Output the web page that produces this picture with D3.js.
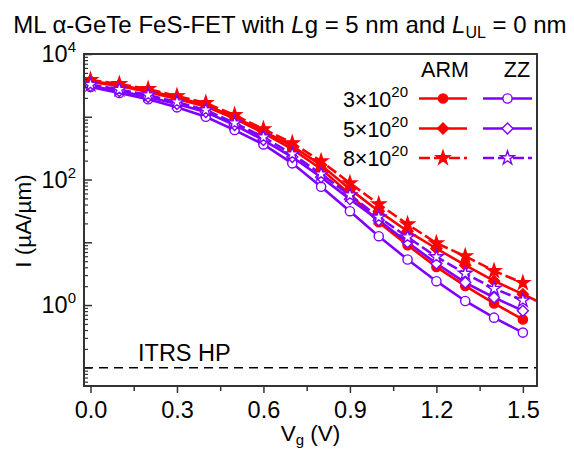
<!DOCTYPE html>
<html>
<head>
<meta charset="utf-8">
<script src="https://cdn.jsdelivr.net/npm/d3@7/dist/d3.min.js"></script>
<style>
  body { margin: 0; background: #fff; }
  text { font-family: Arial, "Liberation Sans", sans-serif; fill: #000; }
</style>
</head>
<body>
<svg id="chart" width="574" height="452"></svg>
<script>
// gate voltage (V); the ARM 5e20 curve has one extra point past the frame
const vg = [0, 0.1, 0.2, 0.3, 0.4, 0.5, 0.6, 0.7, 0.8, 0.9, 1.0, 1.1, 1.2, 1.3, 1.4, 1.5, 1.6];

// current (uA/um)
const arm3 = [3575, 3090, 2477, 1915, 1455, 936, 550, 305, 147, 58.5, 20.9, 8.99, 4.05, 2.02, 1.06, 0.59];
const arm5 = [3710, 3205, 2618, 2024, 1537, 989, 592, 341, 170, 70.3, 31.3, 15.0, 7.96, 4.31, 2.42, 1.49, 0.89];
const arm8 = [3850, 3325, 2765, 2138, 1655, 1065, 637, 381, 196, 87.7, 40.5, 19.4, 9.68, 6.0, 3.50, 2.25];
const zz3 = [2977, 2388, 1896, 1413, 1000, 614, 363, 181, 76.5, 31.3, 12.5, 5.32, 2.40, 1.16, 0.63, 0.364];
const zz5 = [3100, 2570, 2061, 1595, 1188, 738, 425, 228, 109, 48.7, 22.5, 10.0, 4.59, 2.28, 1.32, 0.81];
const zz8 = [3250, 2715, 2218, 1715, 1280, 794, 474, 254, 122, 56.4, 25.1, 12.1, 5.85, 3.18, 1.83, 1.19];

const dopings = ["3", "5", "8"];
const itrsHP = 0.1;

const xTicks = [0, 0.3, 0.6, 0.9, 1.2, 1.5];
const xTickLabels = ["0.0", "0.3", "0.6", "0.9", "1.2", "1.5"];
const yLabelExps = [4, 2, 0];

const red = "#ff0000";
const purple = "#8000ff";

const series = [
  { vals: arm3, color: red, marker: "circle", filled: true, dashed: false },
  { vals: arm5, color: red, marker: "diamond", filled: true, dashed: false },
  { vals: arm8, color: red, marker: "star", filled: true, dashed: true },
  { vals: zz3, color: purple, marker: "circle", filled: false, dashed: false },
  { vals: zz5, color: purple, marker: "diamond", filled: false, dashed: false },
  { vals: zz8, color: purple, marker: "star", filled: false, dashed: true }
];

const box = { left: 84, right: 537, top: 54, bottom: 386 };

const svg = d3.select("#chart");

const x = d3.scaleLinear().domain([-0.0225, 1.549]).range([box.left, box.right]);
const y = d3.scaleLog().domain([0.0513, 1e4]).range([box.bottom, box.top]);

// diamond as a rotated square
const diamondType = {
  draw(ctx, size) {
    const r = Math.sqrt(size) / 2;
    ctx.moveTo(0, -r);
    ctx.lineTo(r, 0);
    ctx.lineTo(0, r);
    ctx.lineTo(-r, 0);
    ctx.closePath();
  }
};
const symbolFor = {
  circle: d3.symbol().type(d3.symbolCircle).size(Math.PI * 4.6 * 4.6),
  diamond: d3.symbol().type(diamondType).size(121),
  star: d3.symbol().type(d3.symbolStar).size(58)
};

svg.append("clipPath").attr("id", "plot-clip")
  .append("rect")
  .attr("x", box.left).attr("y", box.top)
  .attr("width", box.right - box.left).attr("height", box.bottom - box.top);

// ITRS HP reference line
svg.append("line")
  .attr("x1", box.left).attr("x2", box.right)
  .attr("y1", y(itrsHP)).attr("y2", y(itrsHP))
  .attr("stroke", "#000").attr("stroke-width", 1.5)
  .attr("stroke-dasharray", "9,6");

svg.append("text")
  .attr("x", 138).attr("y", 361)
  .style("font-size", "23.5px")
  .text("ITRS HP");

const plot = svg.append("g").attr("clip-path", "url(#plot-clip)");

const line = d3.line()
  .x((d, i) => x(vg[i]))
  .y(d => y(d));

series.forEach(s => {
  plot.append("path")
    .datum(s.vals)
    .attr("fill", "none")
    .attr("stroke", s.color)
    .attr("stroke-width", 2.6)
    .attr("stroke-dasharray", s.dashed ? "11,4" : null)
    .attr("d", line);
});

series.forEach(s => {
  plot.selectAll(null)
    .data(s.vals)
    .enter()
    .append("path")
    .attr("transform", (d, i) => `translate(${x(vg[i])},${y(d)})`)
    .attr("d", symbolFor[s.marker])
    .attr("fill", s.filled ? s.color : "#fff")
    .attr("stroke", s.color)
    .attr("stroke-width", 1.4);
});

// frame
svg.append("rect")
  .attr("x", box.left).attr("y", box.top)
  .attr("width", box.right - box.left).attr("height", box.bottom - box.top)
  .attr("fill", "none").attr("stroke", "#333").attr("stroke-width", 2);

// x axis ticks (outward)
const xMinor = xTicks.slice(0, -1).map(v => v + 0.15);
svg.append("g")
  .attr("transform", `translate(0,${box.bottom})`)
  .call(d3.axisBottom(x).tickValues(xMinor).tickSize(5).tickFormat(""))
  .call(g => g.select(".domain").remove())
  .call(g => g.selectAll("line").attr("stroke", "#333").attr("stroke-width", 1.5));

svg.append("g")
  .attr("transform", `translate(0,${box.bottom})`)
  .call(d3.axisBottom(x).tickValues(xTicks).tickSize(7).tickPadding(8)
    .tickFormat((d, i) => xTickLabels[i]))
  .call(g => g.select(".domain").remove())
  .call(g => g.selectAll("line").attr("stroke", "#333").attr("stroke-width", 1.5))
  .call(g => g.selectAll("text").style("font-size", "23.5px").attr("fill", "#000")
    .style("font-family", "Arial, 'Liberation Sans', sans-serif"));

// y axis ticks (inward)
const yMajor = d3.range(-1, 5).map(e => Math.pow(10, e));
const yMinor = [];
d3.range(-2, 4).forEach(e => {
  for (let k = 2; k <= 9; k++) {
    const v = k * Math.pow(10, e);
    if (v > y.domain()[0] && v < 1e4) yMinor.push(v);
  }
});

svg.append("g")
  .attr("transform", `translate(${box.left},0)`)
  .call(d3.axisRight(y).tickValues(yMinor).tickSize(4).tickFormat(""))
  .call(g => g.select(".domain").remove())
  .call(g => g.selectAll("line").attr("stroke", "#333").attr("stroke-width", 1.2));

svg.append("g")
  .attr("transform", `translate(${box.left},0)`)
  .call(d3.axisRight(y).tickValues(yMajor).tickSize(8).tickFormat(""))
  .call(g => g.select(".domain").remove())
  .call(g => g.selectAll("line").attr("stroke", "#333").attr("stroke-width", 1.5));

// y tick labels 10^n
yLabelExps.forEach(e => {
  const t = svg.append("text")
    .attr("x", 76).attr("y", y(Math.pow(10, e)) + 8)
    .attr("text-anchor", "end")
    .style("font-size", "23.5px");
  t.append("tspan").text("10");
  t.append("tspan").attr("dy", -10).style("font-size", "15px").text(e);
});

// axis titles
const xt = svg.append("text")
  .attr("x", (box.left + box.right) / 2).attr("y", 441)
  .attr("text-anchor", "middle")
  .style("font-size", "22.5px");
xt.append("tspan").text("V");
xt.append("tspan").attr("dy", 4).style("font-size", "15px").text("g");
xt.append("tspan").attr("dy", -4).text(" (V)");

svg.append("text")
  .attr("transform", `translate(31,${(box.top + box.bottom) / 2 + 1}) rotate(-90)`)
  .attr("text-anchor", "middle")
  .style("font-size", "22.5px")
  .text("I (\u00b5A/\u00b5m)");

// title
const title = svg.append("text")
  .attr("x", 290).attr("y", 33)
  .attr("text-anchor", "middle")
  .style("font-size", "24px");
title.append("tspan").text("ML \u03b1-GeTe FeS-FET with ");
title.append("tspan").style("font-style", "italic").text("L");
title.append("tspan").text("g = 5 nm and ");
title.append("tspan").style("font-style", "italic").text("L");
title.append("tspan").attr("dy", 5).style("font-size", "16px").text("UL");
title.append("tspan").attr("dy", -5).text(" = 0 nm");

// legend
const legend = svg.append("g");
legend.append("text").attr("x", 445).attr("y", 77).attr("text-anchor", "middle")
  .style("font-size", "21.5px").text("ARM");
legend.append("text").attr("x", 517).attr("y", 77).attr("text-anchor", "middle")
  .style("font-size", "21.5px").text("ZZ");

const rowY = [98.5, 128.5, 158];
const cols = [{ x1: 419, x2: 467 }, { x1: 483, x2: 532 }];

series.forEach((s, i) => {
  const row = i % 3;
  const col = cols[Math.floor(i / 3)];
  const ly = rowY[row];
  legend.append("line")
    .attr("x1", col.x1).attr("x2", col.x2)
    .attr("y1", ly).attr("y2", ly)
    .attr("stroke", s.color).attr("stroke-width", 2.6)
    .attr("stroke-dasharray", s.dashed ? "11,4" : null);
  legend.append("path")
    .attr("transform", `translate(${(col.x1 + col.x2) / 2},${ly})`)
    .attr("d", symbolFor[s.marker])
    .attr("fill", s.filled ? s.color : "#fff")
    .attr("stroke", s.color)
    .attr("stroke-width", 1.4);
});

dopings.forEach((d, i) => {
  const t = legend.append("text")
    .attr("x", 408).attr("y", rowY[i] + 8)
    .attr("text-anchor", "end")
    .style("font-size", "21.5px");
  t.append("tspan").text(d + "\u00d710");
  t.append("tspan").attr("dy", -10).style("font-size", "15px").text("20");
});
</script>
</body>
</html>
